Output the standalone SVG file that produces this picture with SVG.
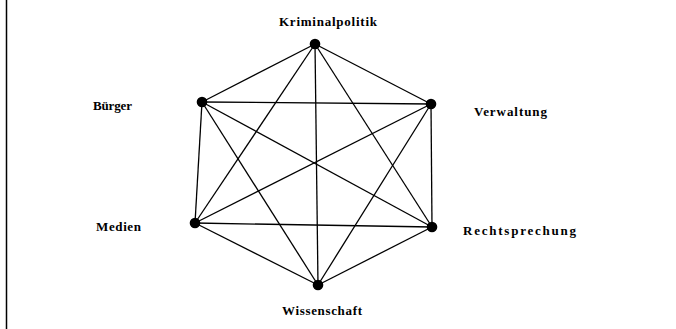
<svg xmlns="http://www.w3.org/2000/svg" width="676" height="329" viewBox="0 0 676 329">
<style>
.edge{stroke:#000;stroke-width:1.3;fill:none}
.dot{fill:#000}
.lbl{font-family:"Liberation Serif","Times New Roman",serif;font-weight:bold;font-size:13px;fill:#000}
</style>
<rect width="676" height="329" fill="#fff"/>
<line x1="6.5" y1="0" x2="6.5" y2="329" stroke="#000" stroke-width="1.5"/>
<g id="connectors">
<line class="edge" x1="315" y1="44" x2="431" y2="104"/>
<line class="edge" x1="315" y1="44" x2="432" y2="227"/>
<line class="edge" x1="315" y1="44" x2="318" y2="285"/>
<line class="edge" x1="315" y1="44" x2="195" y2="223"/>
<line class="edge" x1="315" y1="44" x2="202" y2="102"/>
<line class="edge" x1="431" y1="104" x2="432" y2="227"/>
<line class="edge" x1="431" y1="104" x2="318" y2="285"/>
<line class="edge" x1="431" y1="104" x2="195" y2="223"/>
<line class="edge" x1="431" y1="104" x2="202" y2="102"/>
<line class="edge" x1="432" y1="227" x2="318" y2="285"/>
<line class="edge" x1="432" y1="227" x2="195" y2="223"/>
<line class="edge" x1="432" y1="227" x2="202" y2="102"/>
<line class="edge" x1="318" y1="285" x2="195" y2="223"/>
<line class="edge" x1="318" y1="285" x2="202" y2="102"/>
<line class="edge" x1="195" y1="223" x2="202" y2="102"/>
</g>
<g id="node-kriminalpolitik">
<circle class="dot" cx="315" cy="44" r="5.3"/>
<text class="lbl" x="279" y="26" textLength="98" lengthAdjust="spacing">Kriminalpolitik</text>
</g>
<g id="node-verwaltung">
<circle class="dot" cx="431" cy="104" r="5.3"/>
<text class="lbl" x="474" y="116" textLength="73" lengthAdjust="spacing">Verwaltung</text>
</g>
<g id="node-rechtsprechung">
<circle class="dot" cx="432" cy="227" r="5.3"/>
<text class="lbl" x="463" y="235" textLength="113" lengthAdjust="spacing">Rechtsprechung</text>
</g>
<g id="node-wissenschaft">
<circle class="dot" cx="318" cy="285" r="5.3"/>
<text class="lbl" x="282" y="315" textLength="80" lengthAdjust="spacing">Wissenschaft</text>
</g>
<g id="node-medien">
<circle class="dot" cx="195" cy="223" r="5.3"/>
<text class="lbl" x="96" y="231" textLength="45" lengthAdjust="spacing">Medien</text>
</g>
<g id="node-buerger">
<circle class="dot" cx="202" cy="102" r="5.3"/>
<text class="lbl" x="93" y="110" textLength="39" lengthAdjust="spacing">Bürger</text>
</g>
</svg>
